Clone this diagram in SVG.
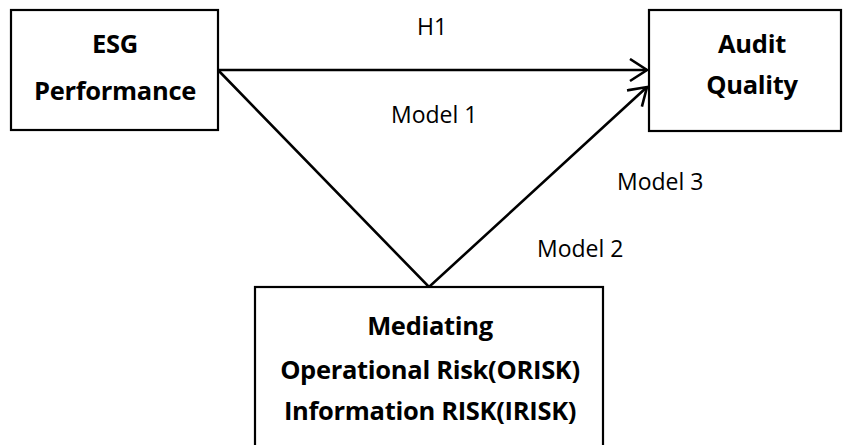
<svg xmlns="http://www.w3.org/2000/svg" width="843" height="445" viewBox="0 0 843 445">
<style>
.box{fill:#fff;stroke:#000;stroke-width:2.2}
.t{font-family:"Open Sans","Liberation Sans",sans-serif;font-weight:bold;font-size:25.5px;letter-spacing:-0.3px;fill:#000;text-anchor:middle}
.l{font-family:"Open Sans","Liberation Sans",sans-serif;font-size:23px;fill:#000}
.c{fill:none;stroke:#000;stroke-width:2.6}
</style>
<defs>
<marker id="ah" markerUnits="userSpaceOnUse" markerWidth="24" markerHeight="26" refX="18" refY="12" orient="auto">
<path d="M1,1 L18,12 L1,23" fill="none" stroke="#000" stroke-width="2.6"/>
</marker>
</defs>
<rect width="843" height="445" fill="#fff"/>
<g id="connectors">
<line class="c" x1="218" y1="70" x2="647" y2="70" marker-end="url(#ah)"/>
<polyline class="c" points="218,70 429,287 647,87" marker-end="url(#ah)"/>
</g>
<g id="esg">
<rect class="box" x="11" y="10" width="207" height="120"/>
<text class="t" x="115" y="53">ESG</text>
<text class="t" x="115" y="100">Performance</text>
</g>
<g id="audit">
<rect class="box" x="649" y="10" width="192" height="121"/>
<text class="t" x="752" y="53">Audit</text>
<text class="t" x="752" y="94">Quality</text>
</g>
<g id="mediating">
<rect class="box" x="255" y="287" width="348" height="170"/>
<text class="t" x="430" y="335">Mediating</text>
<text class="t" x="430" y="379">Operational Risk(ORISK)</text>
<text class="t" x="430" y="420">Information RISK(IRISK)</text>
</g>
<g id="labels">
<text class="l" x="417" y="35">H1</text>
<text class="l" x="391" y="123">Model 1</text>
<text class="l" x="617" y="190">Model 3</text>
<text class="l" x="537" y="257">Model 2</text>
</g>
</svg>
